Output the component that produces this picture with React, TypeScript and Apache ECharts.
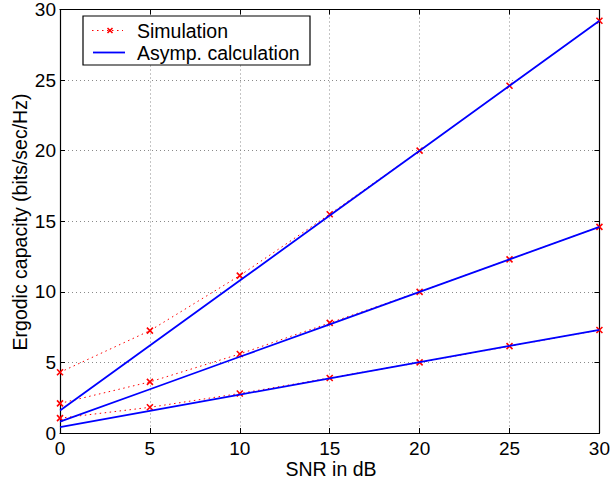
import React, { useEffect, useRef } from "react";
import * as echarts from "echarts";

const snr = [0, 5, 10, 15, 20, 25, 30];
const simHigh = [4.3, 7.25, 11.15, 15.5, 20.0, 24.6, 29.2];
const simMid = [2.1, 3.62, 5.6, 7.8, 10.0, 12.3, 14.6];
const simLow = [1.05, 1.82, 2.8, 3.9, 5.0, 6.15, 7.3];
const asymHigh = [1.6, 6.2, 10.8, 15.4, 20.0, 24.6, 29.2];
const asymMid = [0.8, 3.1, 5.4, 7.7, 10.0, 12.3, 14.6];
const asymLow = [0.42, 1.57, 2.72, 3.87, 5.02, 6.17, 7.3];
const legendNames = ["Simulation", "Asymp. calculation"];
const xTitle = "SNR in dB";
const yTitle = "Ergodic capacity (bits/sec/Hz)";

const FONT = "'Liberation Sans', Arial, Helvetica, sans-serif";
const CROSS = "path://M0,0L10,10M10,0L0,10";

export default function App() {
  const ref = useRef<HTMLDivElement>(null);
  useEffect(() => {
    if (!ref.current) return;
    const chart = echarts.init(ref.current, null, { renderer: "svg" });
    const pairs = (ys: number[]) => snr.map((x, i) => [x, ys[i]]);
    const simSeries = (ys: number[]) => ({
      type: "line",
      data: pairs(ys),
      symbol: CROSS,
      symbolSize: 6,
      showSymbol: true,
      itemStyle: { color: "none", borderColor: "#ff0000", borderWidth: 1.6 },
      lineStyle: { color: "#ff0000", width: 1, type: [1.5, 3.5] },
      z: 3,
    });
    const asymSeries = (ys: number[]) => ({
      type: "line",
      data: pairs(ys),
      symbol: "none",
      lineStyle: { color: "#0000ff", width: 1.8 },
      z: 4,
    });
    const tick = { show: true, inside: true, length: 5, lineStyle: { color: "#000", width: 1 } };
    const axisLine = { show: true, onZero: false, lineStyle: { color: "#000", width: 1.2 } };
    const split = { show: true, lineStyle: { color: "#8a8a8a", width: 1, type: [1, 3] } };
    const label = { fontFamily: FONT, fontSize: 19, color: "#000" };
    chart.setOption({
      animation: false,
      grid: { left: 60, right: 9, top: 5, bottom: 49, containLabel: false },
      xAxis: [
        {
          type: "value", min: 0, max: 30, interval: 5, position: "bottom",
          axisLine, axisTick: tick, splitLine: split,
          axisLabel: { ...label, margin: 6 },
        },
        {
          type: "value", min: 0, max: 30, interval: 5, position: "top",
          axisLine, axisTick: tick, splitLine: { show: false }, axisLabel: { show: false },
        },
      ],
      yAxis: [
        {
          type: "value", min: 0, max: 30, interval: 5, position: "left",
          axisLine, axisTick: tick, splitLine: split,
          axisLabel: { ...label, margin: 4 },
        },
        {
          type: "value", min: 0, max: 30, interval: 5, position: "right",
          axisLine, axisTick: tick, splitLine: { show: false }, axisLabel: { show: false },
        },
      ],
      series: [
        simSeries(simHigh), simSeries(simMid), simSeries(simLow),
        asymSeries(asymHigh), asymSeries(asymMid), asymSeries(asymLow),
      ],
      graphic: [
        {
          type: "text", x: 331, y: 469,
          style: { text: xTitle, font: `19.5px ${FONT}`, fill: "#000", align: "center", verticalAlign: "middle" },
        },
        {
          type: "text", x: 20, y: 222, rotation: Math.PI / 2,
          style: { text: yTitle, font: `19.5px ${FONT}`, fill: "#000", align: "center", verticalAlign: "middle" },
        },
        {
          type: "rect", shape: { x: 83, y: 16, width: 227, height: 49 },
          style: { fill: "#fff", stroke: "#000", lineWidth: 1.2 }, z: 10,
        },
        {
          type: "line", shape: { x1: 92, y1: 30.5, x2: 123, y2: 30.5 },
          style: { stroke: "#ff0000", lineWidth: 1, lineDash: [1.5, 3.5] }, z: 11,
        },
        {
          type: "line", shape: { x1: 107.5, y1: 28, x2: 112.5, y2: 33 },
          style: { stroke: "#ff0000", lineWidth: 1.6 }, z: 11,
        },
        {
          type: "line", shape: { x1: 112.5, y1: 28, x2: 107.5, y2: 33 },
          style: { stroke: "#ff0000", lineWidth: 1.6 }, z: 11,
        },
        {
          type: "line", shape: { x1: 93, y1: 52.5, x2: 125, y2: 52.5 },
          style: { stroke: "#0000ff", lineWidth: 1.8 }, z: 11,
        },
        {
          type: "text", x: 137, y: 31, z: 11,
          style: { text: legendNames[0], font: `19.5px ${FONT}`, fill: "#000", align: "left", verticalAlign: "middle" },
        },
        {
          type: "text", x: 137, y: 53, z: 11,
          style: { text: legendNames[1], font: `19.5px ${FONT}`, fill: "#000", align: "left", verticalAlign: "middle" },
        },
      ],
    });
    return () => chart.dispose();
  }, []);
  return <div ref={ref} style={{ width: 613, height: 482, position: "absolute", left: 0, top: 0, background: "#fff" }} />;
}
